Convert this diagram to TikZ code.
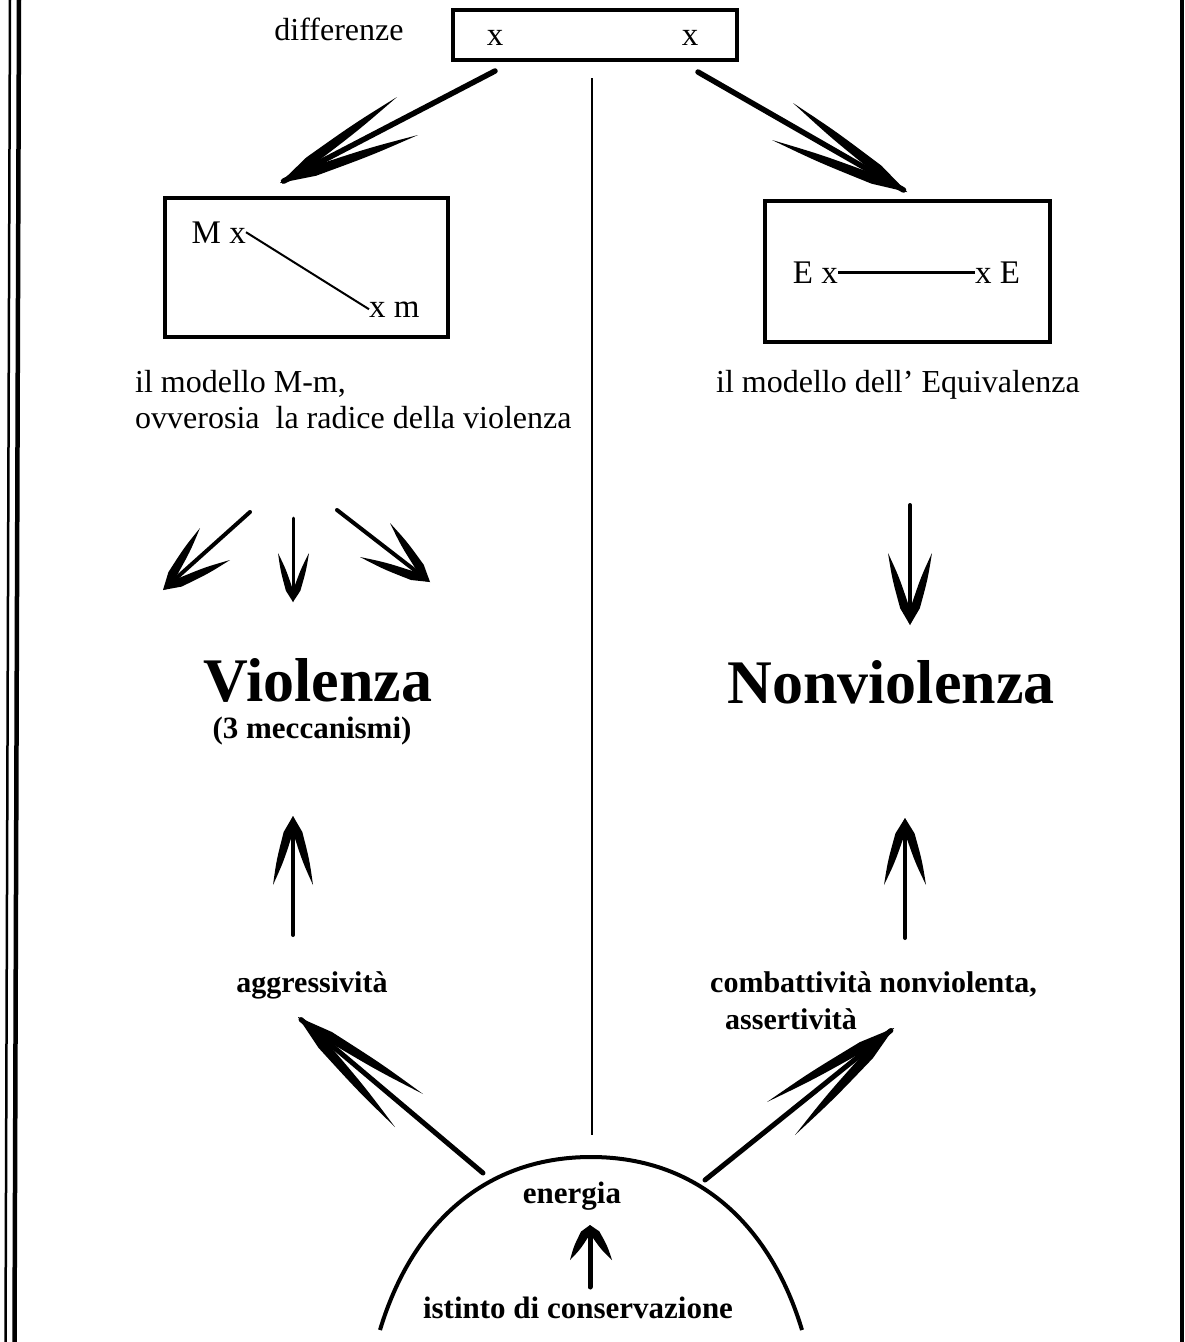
\documentclass[tikz,border=0pt]{standalone}
\usepackage{fontspec}
\setmainfont{Liberation Serif}
\usetikzlibrary{calc}
\newcommand{\barbfill}[3]{%
  \fill (#1) -- ($(#1)!0.25!(#2)!#3!90:(#2)$) .. controls ($(#1)!0.65!(#2)!0.8*#3!90:(#2)$) .. (#2)
    .. controls ($(#1)!0.65!(#2)!0.8*#3!-90:(#2)$) .. ($(#1)!0.25!(#2)!#3!-90:(#2)$) -- cycle;}
\newcommand{\headfill}[4]{%
  \barbfill{#1}{#2}{#4}\barbfill{#1}{#3}{#4}%
  \fill (#1) -- ($(#1)!0.27!(#2)$) -- ($(#1)!0.27!(#3)$) -- cycle;}
\begin{document}
\begin{tikzpicture}[x=1pt,y=-1pt,
  shaft/.style={line width=#1, line cap=round, shorten >=4pt},
  boxed/.style={draw, line width=4pt, inner sep=0pt},
  captxt/.style={font=\fontsize{32}{37}\selectfont, inner sep=0pt},
  lab/.style={font=\bfseries\fontsize{30}{36}\selectfont, inner sep=0pt},
  bigtxt/.style={font=\bfseries\fontsize{62}{70}\selectfont, inner sep=0pt},
  bx/.style={font=\fontsize{33}{37}\selectfont, inner sep=0pt}]
\useasboundingbox (0,0) rectangle (1185,1342);
\fill[white] (0,0) rectangle (1185,1342);
% frame
\coordinate (f1a) at (10,0); \coordinate (f1b) at (5.5,1342);
\coordinate (f2a) at (19,0); \coordinate (f2b) at (14.5,1342);
\coordinate (f3a) at (1182,0); \coordinate (f3b) at (1182,1342);
\draw[line width=2.5pt] (f1a) -- (f1b);
\draw[line width=4.5pt] (f2a) -- (f2b);
\draw[line width=4.5pt] (f3a) -- (f3b);
% top box
\node[boxed, line width=3.5pt, minimum width=284pt, minimum height=50pt] (top) at (595,35) {};
\node[bx, anchor=base] (tx1) at (495,45) {x};
\node[bx, anchor=base] (tx2) at (690,45) {x};
\node[captxt, anchor=base] (diff) at (339,40) {differenze};
% centre line
\coordinate (vtop) at (592,78); \coordinate (vbot) at (592,1135);
\draw[line width=2pt] (vtop) -- (vbot);
% left model box
\node[boxed, minimum width=283pt, minimum height=139pt] (lbox) at (306.5,267.5) {};
\node[bx, anchor=base east] (mx) at (246,243) {M x};
\node[bx, anchor=base west] (xm) at (369,317) {x m};
\draw[line width=2pt] (mx.east) -- (xm.west);
% right model box
\node[boxed, minimum width=285pt, minimum height=141pt] (rbox) at (907.5,271.5) {};
\node[bx, anchor=base east] (ex) at (838,283) {E x};
\node[bx, anchor=base west] (xe) at (975,283) {x E};
\draw[line width=3pt] (ex.east) -- (xe.west);
% captions
\node[captxt, anchor=base west] (capl1) at (135,392) {il modello M-m,};
\node[captxt, anchor=base west] (capl2) at (135,428) {ovverosia\ \ la radice della violenza};
\node[captxt, anchor=base west] (capr) at (716,392) {il modello dell' Equivalenza};
% main words
\node[bigtxt, anchor=base] (viol) at (318,701) {Violenza};
\node[lab, font=\bfseries\fontsize{31}{36}\selectfont, anchor=base] (mecc) at (312,738) {(3 meccanismi)};
\node[bigtxt, anchor=base] (nonv) at (891,703) {Nonviolenza};
\node[lab, anchor=base] (aggr) at (312,992) {aggressività};
\node[lab, anchor=base west] (comb1) at (710,992) {combattività nonviolenta,};
\node[lab, anchor=base west] (comb2) at (725,1029) {assertività};
\node[lab, font=\bfseries\fontsize{31}{36}\selectfont, anchor=base] (ener) at (572,1203) {energia};
\node[lab, font=\bfseries\fontsize{31}{36}\selectfont, anchor=base] (isti) at (578,1318) {istinto di conservazione};
% hemisphere
\coordinate (arcL) at (380,1330); \coordinate (arcT) at (591,1157); \coordinate (arcR) at (802,1330);
\draw[line width=4pt] (arcL) .. controls (410,1230) and (480,1157) .. (arcT)
  .. controls (702,1157) and (772,1230) .. (arcR);
% arrows: start, tip, barb ends
\coordinate (a1s) at (495,71);  \coordinate (a1t) at (280,183); \coordinate (a1b) at (397,97);  \coordinate (a1c) at (418,135);
\coordinate (a2s) at (698,72);  \coordinate (a2t) at (907,192); \coordinate (a2b) at (793,103); \coordinate (a2c) at (772,140);
\coordinate (a3s) at (250,512); \coordinate (a3t) at (163,590); \coordinate (a3b) at (200,528); \coordinate (a3c) at (230,560);
\coordinate (a4s) at (293,518); \coordinate (a4t) at (293,602); \coordinate (a4b) at (278,553); \coordinate (a4c) at (309,553);
\coordinate (a5s) at (337,510); \coordinate (a5t) at (430,582); \coordinate (a5b) at (390,523); \coordinate (a5c) at (360,557);
\coordinate (a6s) at (910,505); \coordinate (a6t) at (910,625); \coordinate (a6b) at (888,553); \coordinate (a6c) at (932,553);
\coordinate (a7s) at (293,935); \coordinate (a7t) at (293,816); \coordinate (a7b) at (273,885); \coordinate (a7c) at (313,885);
\coordinate (a8s) at (905,938); \coordinate (a8t) at (905,818); \coordinate (a8b) at (884,885); \coordinate (a8c) at (926,885);
\coordinate (a9s) at (483,1173); \coordinate (a9t) at (298,1017); \coordinate (a9b) at (423,1094); \coordinate (a9c) at (395,1127);
\coordinate (a10s) at (705,1180); \coordinate (a10t) at (894,1028); \coordinate (a10b) at (767,1102); \coordinate (a10c) at (795,1135);
\coordinate (a11s) at (590,1287); \coordinate (a11t) at (590,1225); \coordinate (a11b) at (570,1260); \coordinate (a11c) at (612,1260);
\draw[shaft=5.5pt] (a1s) -- (a1t); \headfill{a1t}{a1b}{a1c}{5pt}
\draw[shaft=5.5pt] (a2s) -- (a2t); \headfill{a2t}{a2b}{a2c}{5pt}
\draw[shaft=4pt] (a3s) -- (a3t); \headfill{a3t}{a3b}{a3c}{4.5pt}
\draw[shaft=3pt] (a4s) -- (a4t); \headfill{a4t}{a4b}{a4c}{3.5pt}
\draw[shaft=4pt] (a5s) -- (a5t); \headfill{a5t}{a5b}{a5c}{4.5pt}
\draw[shaft=4pt] (a6s) -- (a6t); \headfill{a6t}{a6b}{a6c}{4.5pt}
\draw[shaft=4pt] (a7s) -- (a7t); \headfill{a7t}{a7b}{a7c}{4.5pt}
\draw[shaft=4pt] (a8s) -- (a8t); \headfill{a8t}{a8b}{a8c}{4.5pt}
\draw[shaft=5pt] (a9s) -- (a9t); \headfill{a9t}{a9b}{a9c}{5pt}
\draw[shaft=5pt] (a10s) -- (a10t); \headfill{a10t}{a10b}{a10c}{5pt}
\draw[shaft=5pt] (a11s) -- (a11t); \headfill{a11t}{a11b}{a11c}{4.5pt}
\end{tikzpicture}
\end{document}
